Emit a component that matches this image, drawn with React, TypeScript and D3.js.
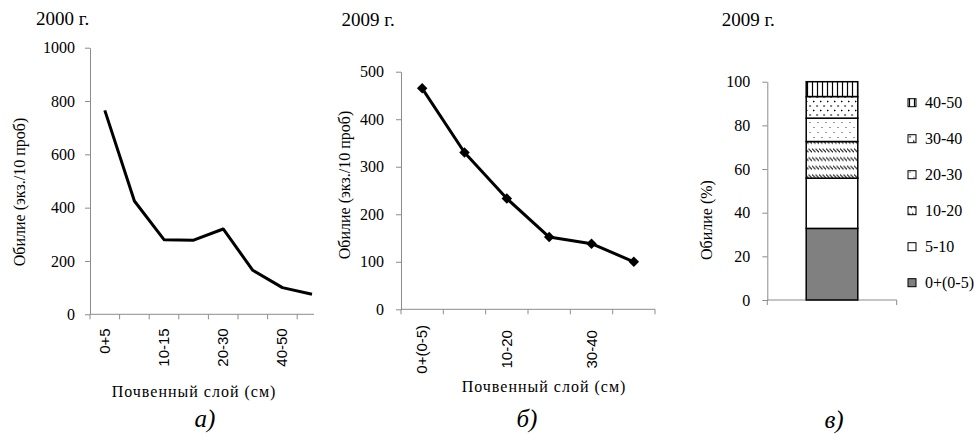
import React, { useEffect, useRef } from "react";
import * as d3 from "d3";

// panel a: 2000, abundance by soil layer
const layers2000 = ["0+5", "5-10", "10-15", "15-20", "20-30", "30-40", "40-50", "50-60"];
const abundance2000 = [765, 425, 280, 278, 320, 165, 100, 75];
const shownA = ["0+5", "10-15", "20-30", "40-50"];
const ticksA = [0, 200, 400, 600, 800, 1000];

// panel b: 2009, abundance by soil layer
const layers2009 = ["0+(0-5)", "5-10", "10-20", "20-30", "30-40", "40-50"];
const abundance2009 = [465, 330, 233, 152, 138, 100];
const shownB = ["0+(0-5)", "10-20", "30-40"];
const ticksB = [0, 100, 200, 300, 400, 500];

// panel c: 2009, share of each layer (%)
const shareLayers = ["0+(0-5)", "5-10", "10-20", "20-30", "30-40", "40-50"];
const share2009 = [32.8, 23.0, 16.8, 10.7, 9.9, 6.8];
const ticksC = [0, 20, 40, 60, 80, 100];

const SERIF = "Liberation Serif";
const SANS = "Liberation Sans";
const AXIS = "#8c8c8c";

const fills: Record<string, string> = {
  "0+(0-5)": "#808080",
  "5-10": "#ffffff",
  "10-20": "url(#pHatch)",
  "20-30": "url(#pDots)",
  "30-40": "url(#pTri)",
  "40-50": "url(#pVert)",
};

function styleYAxis(g: any) {
  g.attr("font-family", null).attr("font-size", null);
  g.select(".domain").attr("stroke", AXIS);
  g.selectAll(".tick line").attr("stroke", AXIS);
  g.selectAll(".tick text").attr("fill", "#000")
    .style("font-family", SERIF).style("font-size", "16px");
}

export default function App() {
  const ref = useRef<SVGSVGElement>(null);

  useEffect(() => {
    const svg = d3.select(ref.current);
    svg.selectAll("*").remove();

    // patterns for the stacked bar
    const defs = svg.append("defs");
    const hatch = defs.append("pattern").attr("id", "pHatch").attr("patternUnits", "userSpaceOnUse")
      .attr("width", 3.5).attr("height", 8.6);
    hatch.append("rect").attr("width", 3.5).attr("height", 8.6).attr("fill", "#fff");
    hatch.append("path").attr("d", "M0,2.5L3.5,6").attr("stroke", "#000").attr("stroke-width", 1);
    const dots = defs.append("pattern").attr("id", "pDots").attr("patternUnits", "userSpaceOnUse")
      .attr("width", 8).attr("height", 10);
    dots.append("rect").attr("width", 8).attr("height", 10).attr("fill", "#fff");
    dots.append("rect").attr("x", 1.5).attr("y", 2).attr("width", 1).attr("height", 1).attr("fill", "#333");
    dots.append("rect").attr("x", 5.5).attr("y", 7).attr("width", 1).attr("height", 1).attr("fill", "#333");
    const tri = defs.append("pattern").attr("id", "pTri").attr("patternUnits", "userSpaceOnUse")
      .attr("width", 7).attr("height", 9);
    tri.append("rect").attr("width", 7).attr("height", 9).attr("fill", "#fff");
    tri.append("path").attr("d", "M1,1.5L3,2.5L1,3.5Z M4.5,6L6.5,7L4.5,8Z").attr("fill", "#000");
    const vert = defs.append("pattern").attr("id", "pVert").attr("patternUnits", "userSpaceOnUse")
      .attr("width", 5).attr("height", 5);
    vert.append("rect").attr("width", 5).attr("height", 5).attr("fill", "#fff");
    vert.append("path").attr("d", "M2.5,0V5").attr("stroke", "#000").attr("stroke-width", 1.2);

    const serifText = (g: any, x: number, y: number, size: number, txt: string) =>
      g.append("text").attr("x", x).attr("y", y)
        .style("font-family", SERIF).style("font-size", size + "px").text(txt);
    const vTitle = (g: any, x: number, y: number, txt: string) =>
      g.append("text").attr("transform", `translate(${x},${y}) rotate(-90)`).attr("text-anchor", "middle")
        .style("font-family", SERIF).style("font-size", "16px").text(txt);

    // ---------- panel a ----------
    const xa = d3.scaleBand().domain(layers2000).range([90, 90 + 8 * 29.6]);
    const ya = d3.scaleLinear().domain([0, 1000]).range([314.3, 47.7]);
    const ga = svg.append("g");
    ga.append("g").attr("transform", "translate(90,0)")
      .call(d3.axisLeft(ya).tickValues(ticksA).tickFormat(d3.format("d")).tickSize(5).tickSizeOuter(0).tickPadding(10))
      .call(styleYAxis);
    const lastA = xa(layers2000[layers2000.length - 1])! + xa.bandwidth() / 2 + 2;
    ga.append("line").attr("x1", 90).attr("x2", lastA).attr("y1", ya(0)).attr("y2", ya(0)).attr("stroke", AXIS);
    ga.selectAll(".xt").data(layers2000).enter().append("line")
      .attr("x1", d => xa(d)!).attr("x2", d => xa(d)!)
      .attr("y1", ya(0)).attr("y2", ya(0) + 5).attr("stroke", AXIS);
    ga.selectAll(".xl").data(shownA).enter().append("text")
      .attr("transform", d => `translate(${xa(d)! + xa.bandwidth() / 2 + 5},${ya(0) + 14}) rotate(-90)`)
      .attr("text-anchor", "end").style("font-family", SANS).style("font-size", "15px").text(d => d);
    ga.append("path")
      .datum(abundance2000)
      .attr("d", d3.line<number>().x((d, i) => xa(layers2000[i])! + xa.bandwidth() / 2).y(d => ya(d)))
      .attr("fill", "none").attr("stroke", "#000").attr("stroke-width", 3).attr("stroke-linejoin", "round");
    serifText(ga, 36, 25, 19, "2000 г.");
    vTitle(ga, 25, 192, "Обилие (экз./10 проб)");
    serifText(ga, 194, 397, 16, "Почвенный слой (см)").attr("text-anchor", "middle").attr("letter-spacing", 1);
    serifText(ga, 205, 427, 25, "а)").attr("text-anchor", "middle").style("font-style", "italic");

    // ---------- panel b ----------
    const xb = d3.scaleBand().domain(layers2009).range([401, 655]);
    const yb = d3.scaleLinear().domain([0, 500]).range([309.3, 71.7]);
    const gb = svg.append("g");
    gb.append("g").attr("transform", "translate(401,0)")
      .call(d3.axisLeft(yb).tickValues(ticksB).tickSize(5).tickSizeOuter(0).tickPadding(12))
      .call(styleYAxis);
    gb.append("line").attr("x1", 401).attr("x2", 655).attr("y1", yb(0)).attr("y2", yb(0)).attr("stroke", AXIS);
    gb.selectAll(".xt").data([...layers2009.map(d => xb(d)!), xb.range()[1]]).enter().append("line")
      .attr("x1", d => d).attr("x2", d => d)
      .attr("y1", yb(0)).attr("y2", yb(0) + 5).attr("stroke", AXIS);
    gb.selectAll(".xl").data(shownB).enter().append("text")
      .attr("transform", d => `translate(${xb(d)! + xb.bandwidth() / 2 + 5},${yb(0) + 40}) rotate(-90)`)
      .attr("text-anchor", "middle").style("font-family", SANS).style("font-size", "15px").text(d => d);
    const lineB = d3.line<number>().x((d, i) => xb(layers2009[i])! + xb.bandwidth() / 2).y(d => yb(d));
    gb.append("path").datum(abundance2009).attr("d", lineB)
      .attr("fill", "none").attr("stroke", "#000").attr("stroke-width", 3).attr("stroke-linejoin", "round");
    gb.selectAll(".mk").data(abundance2009).enter().append("path")
      .attr("transform", (d, i) => `translate(${xb(layers2009[i])! + xb.bandwidth() / 2},${yb(d)})`)
      .attr("d", d3.symbol(d3.symbolDiamond2, 70)()).attr("fill", "#000");
    serifText(gb, 341.5, 26, 19, "2009 г.");
    vTitle(gb, 350, 185, "Обилие (экз./10 проб)");
    serifText(gb, 544, 392, 16, "Почвенный слой (см)").attr("text-anchor", "middle").attr("letter-spacing", 1);
    serifText(gb, 527, 427, 25, "б)").attr("text-anchor", "middle").style("font-style", "italic");

    // ---------- panel c ----------
    const row: Record<string, number> = {};
    shareLayers.forEach((k, i) => (row[k] = share2009[i]));
    const stacked = d3.stack<Record<string, number>>().keys(shareLayers)([row]);
    const xc = d3.scaleBand().domain(["2009"]).range([767.3, 896.7]).padding(0.43);
    const yc = d3.scaleLinear().domain([0, 100]).range([300, 81.7]);
    const gc = svg.append("g");
    gc.append("g").attr("transform", "translate(767.3,0)")
      .call(d3.axisLeft(yc).tickValues(ticksC).tickSize(5).tickSizeOuter(0).tickPadding(12))
      .call(styleYAxis);
    gc.append("line").attr("x1", xc.range()[0]).attr("x2", xc.range()[1]).attr("y1", yc(0)).attr("y2", yc(0)).attr("stroke", AXIS);
    gc.selectAll(".xt").data(xc.range()).enter().append("line")
      .attr("x1", d => d).attr("x2", d => d)
      .attr("y1", yc(0)).attr("y2", yc(0) + 5).attr("stroke", AXIS);
    gc.selectAll(".seg").data(stacked).enter().append("rect")
      .attr("x", xc("2009")!).attr("width", xc.bandwidth())
      .attr("y", s => yc(s[0][1])).attr("height", s => yc(s[0][0]) - yc(s[0][1]))
      .attr("fill", s => fills[s.key]).attr("stroke", "#000").attr("stroke-width", 1.5);
    const legend = gc.selectAll(".lg").data([...shareLayers].reverse()).enter().append("g")
      .attr("transform", (d, i) => `translate(912,${102.7 + i * 36})`);
    legend.append("rect").attr("x", -4).attr("y", -4).attr("width", 8).attr("height", 8)
      .attr("fill", d => fills[d]).attr("stroke", "#000").attr("stroke-width", 1);
    legend.append("text").attr("x", 13).attr("y", 5.5)
      .style("font-family", SERIF).style("font-size", "16px").text(d => d);
    serifText(gc, 721.7, 26, 19, "2009 г.");
    vTitle(gc, 712, 220, "Обилие (%)");
    serifText(gc, 834, 428, 25, "в)").attr("text-anchor", "middle").style("font-style", "italic");
  }, []);

  return (
    <svg ref={ref} width={979} height={435}
      style={{ position: "absolute", left: 0, top: 0, background: "#fff" }} />
  );
}
